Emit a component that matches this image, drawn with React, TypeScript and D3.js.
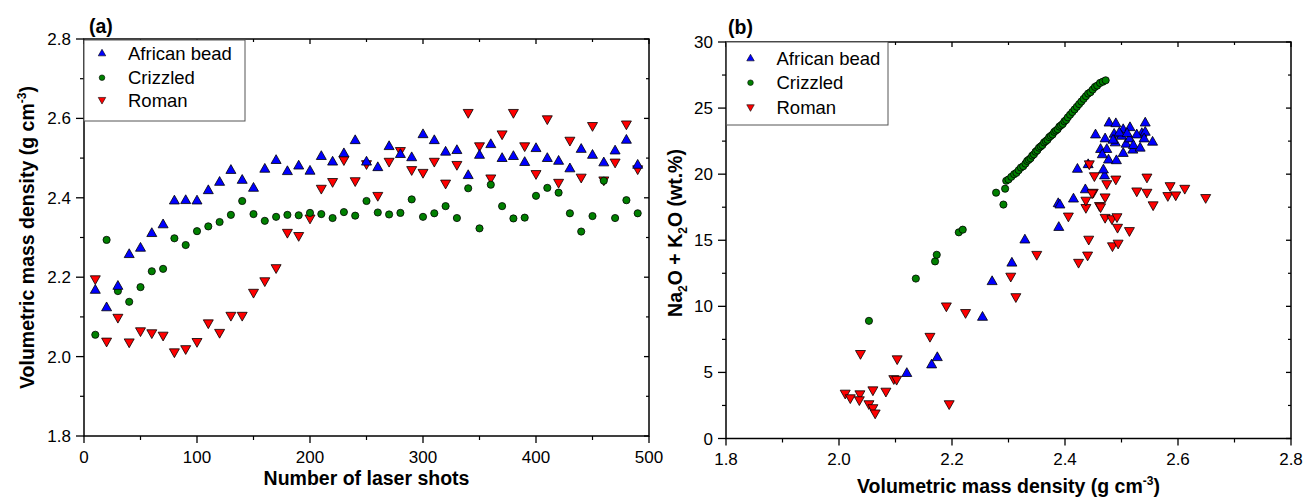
import React from "react";
import * as d3 from "d3";

// ---------- Panel (a) data ----------
const shots = [10,20,30,40,50,60,70,80,90,100,110,120,130,140,150,160,170,180,190,200,210,220,230,240,250,260,270,280,290,300,310,320,330,340,350,360,370,380,390,400,410,420,430,440,450,460,470,480,490];
const africanA = [2.168,2.124,2.178,2.258,2.274,2.311,2.333,2.393,2.394,2.393,2.419,2.440,2.470,2.445,2.425,2.473,2.495,2.467,2.481,2.468,2.505,2.491,2.512,2.545,2.491,2.477,2.530,2.510,2.502,2.560,2.545,2.516,2.520,2.457,2.508,2.535,2.500,2.505,2.490,2.525,2.500,2.493,2.474,2.523,2.508,2.489,2.519,2.546,2.483];
const crizzledA = [2.055,2.294,2.165,2.138,2.175,2.215,2.221,2.298,2.281,2.316,2.328,2.339,2.357,2.392,2.359,2.342,2.352,2.357,2.356,2.362,2.359,2.349,2.364,2.355,2.392,2.363,2.358,2.362,2.396,2.352,2.361,2.379,2.349,2.424,2.323,2.433,2.379,2.348,2.350,2.405,2.425,2.413,2.361,2.315,2.354,2.443,2.349,2.394,2.361];
const romanA = [2.195,2.038,2.098,2.036,2.064,2.059,2.053,2.011,2.019,2.037,2.084,2.060,2.103,2.103,2.161,2.190,2.223,2.312,2.304,2.348,2.423,2.440,2.495,2.442,2.485,2.405,2.491,2.518,2.470,2.463,2.491,2.436,2.483,2.614,2.530,2.449,2.560,2.614,2.530,2.460,2.598,2.438,2.544,2.451,2.581,2.444,2.489,2.585,2.472];

// ---------- Panel (b) data: [density, Na2O+K2O] ----------
const africanB: [number, number][] = [
  [2.120,4.95],[2.164,5.6],[2.174,6.15],[2.254,9.2],[2.271,11.9],[2.306,13.3],[2.329,15.05],[2.389,16.0],[2.388,17.8],[2.391,17.7],
  [2.415,18.15],[2.436,18.85],[2.422,20.4],[2.441,20.75],[2.454,23.0],[2.470,19.9],[2.468,20.35],[2.477,21.1],[2.491,21.05],[2.463,21.9],
  [2.474,21.9],[2.466,21.5],[2.471,22.7],[2.487,23.05],[2.489,22.4],[2.503,21.6],[2.503,23.4],[2.508,22.3],[2.515,23.55],[2.520,21.85],
  [2.514,22.7],[2.521,22.2],[2.533,22.0],[2.536,23.1],[2.542,23.2],[2.540,22.7],[2.555,22.45],[2.542,23.9],[2.478,23.9],[2.490,23.85],
  [2.500,22.9],[2.496,23.15],[2.527,23.0],[2.485,22.6],[2.510,23.1]
];
const crizzledB: [number, number][] = [
  [2.053,8.9],[2.136,12.1],[2.170,13.4],[2.173,13.9],[2.212,15.6],[2.219,15.8],[2.291,17.7],[2.278,18.6],[2.294,18.9],[2.296,19.5],
  [2.300,19.6],[2.305,19.8],[2.310,20.0],[2.314,20.1],[2.318,20.3],[2.322,20.5],[2.326,20.6],[2.330,20.8],[2.333,21.0],[2.336,21.1],
  [2.339,21.2],[2.342,21.4],[2.345,21.5],[2.348,21.7],[2.351,21.8],[2.354,22.0],[2.357,22.1],[2.360,22.2],[2.363,22.4],[2.366,22.5],
  [2.369,22.6],[2.372,22.8],[2.375,22.9],[2.378,23.0],[2.381,23.2],[2.384,23.3],[2.387,23.4],[2.390,23.6],[2.393,23.7],[2.396,23.8],
  [2.399,24.0],[2.402,24.1],[2.405,24.3],[2.409,24.5],[2.413,24.7],[2.417,24.9],[2.421,25.1],[2.425,25.3],[2.429,25.5],[2.433,25.7],
  [2.437,25.9],[2.441,26.1],[2.445,26.2],[2.449,26.4],[2.453,26.6],[2.457,26.7],[2.462,26.9],[2.467,27.0],[2.472,27.1]
];
const romanB: [number, number][] = [
  [2.038,6.4],[2.103,6.0],[2.161,7.7],[2.190,10.0],[2.224,9.5],[2.195,2.6],[2.313,10.7],[2.304,12.25],[2.350,13.9],[2.424,13.3],
  [2.440,13.85],[2.442,15.05],[2.406,16.8],[2.437,17.45],[2.437,18.0],[2.450,18.6],[2.452,19.85],[2.443,20.75],[2.461,17.6],[2.097,4.5],
  [2.102,4.45],[2.011,3.4],[2.020,3.05],[2.037,3.35],[2.036,2.9],[2.060,3.65],[2.083,3.55],[2.053,2.6],[2.060,2.3],[2.064,1.9],
  [2.474,19.25],[2.490,19.6],[2.448,18.55],[2.471,18.25],[2.463,17.5],[2.471,16.7],[2.483,16.6],[2.492,16.75],[2.493,15.95],[2.514,15.7],
  [2.484,14.55],[2.494,14.75],[2.527,18.7],[2.545,18.6],[2.545,19.75],[2.556,17.65],[2.582,18.35],[2.586,19.1],[2.596,18.4],[2.612,18.9],
  [2.649,18.2]
];

const seriesNames = ["African bead", "Crizzled", "Roman"];
const xTicksA = [0, 100, 200, 300, 400, 500];
const xMinorA = [50, 150, 250, 350, 450];
const yTicksDens = [1.8, 2.0, 2.2, 2.4, 2.6, 2.8];
const yMinorDens = [1.9, 2.1, 2.3, 2.5, 2.7];
const yTicksB = [0, 5, 10, 15, 20, 25, 30];
const yMinorB = [2.5, 7.5, 12.5, 17.5, 22.5, 27.5];

const BLUE = "#0000ff";
const GREEN = "#008000";
const RED = "#ff0000";
const FONT = "Arial, 'Liberation Sans', sans-serif";

function upTri(cx: number, cy: number, s = 1) {
  return `M${cx},${cy - 5.4 * s}L${cx + 5 * s},${cy + 3.4 * s}L${cx - 5 * s},${cy + 3.4 * s}Z`;
}
function downTri(cx: number, cy: number, s = 1) {
  return `M${cx},${cy + 5.4 * s}L${cx + 5 * s},${cy - 3.4 * s}L${cx - 5 * s},${cy - 3.4 * s}Z`;
}

type Frame = { x0: number; x1: number; y0: number; y1: number };

function Axes({ f, xs, ys, xT, xM, yT, yM, xFmt, yFmt }: any) {
  const items: any[] = [];
  const { x0, x1, y0, y1 } = f as Frame;
  xT.forEach((t: number, i: number) => {
    const x = xs(t);
    items.push(<line key={"xb" + i} x1={x} x2={x} y1={y1} y2={y1 + 7} stroke="#000" strokeWidth={1.3} />);
    items.push(<line key={"xt" + i} x1={x} x2={x} y1={y0} y2={y0 + 5} stroke="#000" strokeWidth={1.3} />);
    items.push(
      <text key={"xl" + i} x={x} y={y1 + 26.5} textAnchor="middle" fontSize={17} fontFamily={FONT}>
        {xFmt(t)}
      </text>
    );
  });
  xM.forEach((t: number, i: number) => {
    const x = xs(t);
    items.push(<line key={"xmb" + i} x1={x} x2={x} y1={y1} y2={y1 + 4} stroke="#000" strokeWidth={1.2} />);
    items.push(<line key={"xmt" + i} x1={x} x2={x} y1={y0} y2={y0 + 3} stroke="#000" strokeWidth={1.2} />);
  });
  yT.forEach((t: number, i: number) => {
    const y = ys(t);
    items.push(<line key={"yl" + i} x1={x0 - 8} x2={x0} y1={y} y2={y} stroke="#000" strokeWidth={1.3} />);
    items.push(<line key={"yr" + i} x1={x1 - 5} x2={x1} y1={y} y2={y} stroke="#000" strokeWidth={1.3} />);
    items.push(
      <text key={"yt" + i} x={x0 - 13} y={y + 6} textAnchor="end" fontSize={17} fontFamily={FONT}>
        {yFmt(t)}
      </text>
    );
  });
  yM.forEach((t: number, i: number) => {
    const y = ys(t);
    items.push(<line key={"yml" + i} x1={x0 - 4} x2={x0} y1={y} y2={y} stroke="#000" strokeWidth={1.2} />);
    items.push(<line key={"ymr" + i} x1={x1 - 3} x2={x1} y1={y} y2={y} stroke="#000" strokeWidth={1.2} />);
  });
  items.push(
    <rect key="frame" x={x0} y={y0} width={x1 - x0} height={y1 - y0} fill="none" stroke="#000" strokeWidth={1.5} />
  );
  return <g>{items}</g>;
}

function Legend({ x, y, w, h, rows, mOff, tOff }: any) {
  const colors = [BLUE, GREEN, RED];
  return (
    <g>
      <rect x={x} y={y} width={w} height={h} fill="#fff" stroke="#555" strokeWidth={1} />
      {seriesNames.map((n, i) => {
        const cy = y + rows[i];
        const mx = x + mOff;
        let mark;
        if (i === 0) mark = <path d={upTri(mx, cy, 0.75)} fill={colors[i]} stroke="#000" strokeWidth={0.6} />;
        else if (i === 1) mark = <circle cx={mx} cy={cy} r={2.8} fill={colors[i]} stroke="#000" strokeWidth={0.6} />;
        else mark = <path d={downTri(mx, cy, 0.75)} fill={colors[i]} stroke="#000" strokeWidth={0.6} />;
        return (
          <g key={n}>
            {mark}
            <text x={x + tOff} y={cy + 6.6} fontSize={18.5} fontFamily={FONT}>
              {n}
            </text>
          </g>
        );
      })}
    </g>
  );
}

export default function App() {
  const fA: Frame = { x0: 84, x1: 649, y0: 39, y1: 436 };
  const fB: Frame = { x0: 726, x1: 1291, y0: 42, y1: 438.5 };
  const xA = d3.scaleLinear().domain([0, 500]).range([fA.x0, fA.x1]);
  const yA = d3.scaleLinear().domain([1.8, 2.8]).range([fA.y1, fA.y0]);
  const xB = d3.scaleLinear().domain([1.8, 2.8]).range([fB.x0, fB.x1]);
  const yB = d3.scaleLinear().domain([0, 30]).range([fB.y1, fB.y0]);
  const f1 = d3.format(".1f");
  const f0 = d3.format("d");

  return (
    <svg
      width={1303}
      height={498}
      style={{ position: "absolute", left: 0, top: 0, background: "#fff" }}
      fontFamily={FONT}
    >
      <rect x={0} y={0} width={1303} height={498} fill="#fff" />
      {/* Panel (a) points */}
      <g>
        {romanA.map((v, i) => (
          <path key={"ra" + i} d={downTri(xA(shots[i]), yA(v))} fill={RED} stroke="#000" strokeWidth={0.8} />
        ))}
        {crizzledA.map((v, i) => (
          <circle key={"ca" + i} cx={xA(shots[i])} cy={yA(v)} r={3.6} fill={GREEN} stroke="#000" strokeWidth={0.8} />
        ))}
        {africanA.map((v, i) => (
          <path key={"aa" + i} d={upTri(xA(shots[i]), yA(v))} fill={BLUE} stroke="#000" strokeWidth={0.8} />
        ))}
      </g>
      <Axes f={fA} xs={xA} ys={yA} xT={xTicksA} xM={xMinorA} yT={yTicksDens} yM={yMinorDens} xFmt={f0} yFmt={f1} />
      <Legend x={84} y={40} w={161} h={81} rows={[13.3, 37.7, 60]} mOff={18} tOff={44} />
      <text x={89} y={33} fontSize={19.5} fontWeight="bold" fontFamily={FONT}>(a)</text>
      <text x={(fA.x0 + fA.x1) / 2} y={485} textAnchor="middle" fontSize={19.5} fontWeight="bold" fontFamily={FONT}>
        Number of laser shots
      </text>
      <text
        transform={`translate(34,${(fA.y0 + fA.y1) / 2}) rotate(-90)`}
        textAnchor="middle"
        fontSize={19.5}
        fontWeight="bold"
        fontFamily={FONT}
      >
        Volumetric mass density (g cm
        <tspan fontSize={12} dy={-8}>-3</tspan>
        <tspan dy={8}>)</tspan>
      </text>

      {/* Panel (b) points */}
      <g>
        {crizzledB.map((p, i) => (
          <circle key={"cb" + i} cx={xB(p[0])} cy={yB(p[1])} r={3.6} fill={GREEN} stroke="#000" strokeWidth={0.8} />
        ))}
        {africanB.map((p, i) => (
          <path key={"ab" + i} d={upTri(xB(p[0]), yB(p[1]))} fill={BLUE} stroke="#000" strokeWidth={0.8} />
        ))}
        {romanB.map((p, i) => (
          <path key={"rb" + i} d={downTri(xB(p[0]), yB(p[1]))} fill={RED} stroke="#000" strokeWidth={0.8} />
        ))}
      </g>
      <Axes f={fB} xs={xB} ys={yB} xT={yTicksDens} xM={yMinorDens} yT={yTicksB} yM={yMinorB} xFmt={f1} yFmt={f0} />
      <Legend x={726.5} y={42} w={161.5} h={83} rows={[16.3, 40.7, 65.3]} mOff={24} tOff={50} />
      <text x={728} y={34} fontSize={19.5} fontWeight="bold" fontFamily={FONT}>(b)</text>
      <text x={(fB.x0 + fB.x1) / 2} y={493} textAnchor="middle" fontSize={19.5} fontWeight="bold" fontFamily={FONT}>
        Volumetric mass density (g cm
        <tspan fontSize={12} dy={-8}>-3</tspan>
        <tspan dy={8}>)</tspan>
      </text>
      <text
        transform={`translate(682,233) rotate(-90)`}
        textAnchor="middle"
        fontSize={19.5}
        fontWeight="bold"
        fontFamily={FONT}
      >
        Na
        <tspan fontSize={12} dy={5}>2</tspan>
        <tspan dy={-5}>O + K</tspan>
        <tspan fontSize={12} dy={5}>2</tspan>
        <tspan dy={-5}>O (wt.%)</tspan>
      </text>
    </svg>
  );
}
